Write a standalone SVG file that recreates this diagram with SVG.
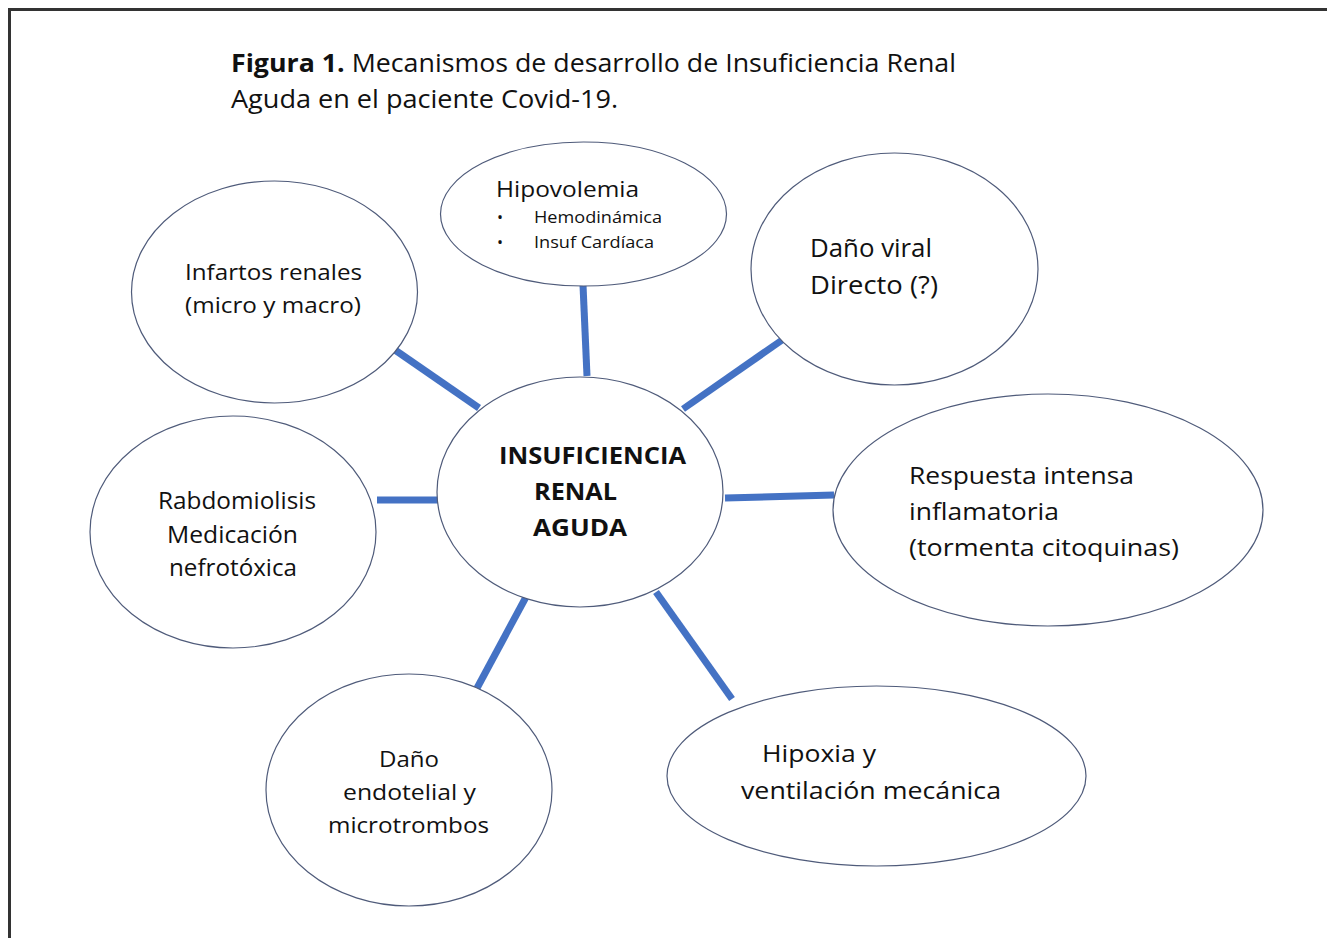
<svg xmlns="http://www.w3.org/2000/svg" width="1327" height="938" viewBox="0 0 1327 938">
<style>
.n{fill:#fff;stroke:#4f5b7a;stroke-width:1.2}
.c{stroke:#4472c4;stroke-width:7;stroke-linecap:butt;fill:none}
text{font-family:"Open Sans",Lato,"Liberation Sans",sans-serif;fill:#111;font-variant-ligatures:none}
</style>
<rect x="0" y="0" width="1327" height="938" fill="#fff"/>
<rect x="9.5" y="9.5" width="1330" height="940" fill="none" stroke="#333" stroke-width="3"/>
<g id="title">
<text x="231" y="72" font-size="25" textLength="725" lengthAdjust="spacingAndGlyphs"><tspan font-weight="bold">Figura 1.</tspan> Mecanismos de desarrollo de Insuficiencia Renal</text>
<text x="231" y="108" font-size="25" textLength="387" lengthAdjust="spacingAndGlyphs">Aguda en el paciente Covid-19.</text>
</g>
<g id="connectors">
<line class="c" x1="395" y1="350" x2="479" y2="408"/>
<line class="c" x1="583" y1="285" x2="587" y2="376"/>
<line class="c" x1="785" y1="338" x2="683" y2="409"/>
<line class="c" x1="377" y1="500" x2="438" y2="500"/>
<line class="c" x1="725" y1="498" x2="834" y2="495"/>
<line class="c" x1="526" y1="597" x2="476" y2="690"/>
<line class="c" x1="656" y1="592" x2="732" y2="699"/>
</g>
<g id="hipovolemia">
<ellipse class="n" cx="583.5" cy="214" rx="143" ry="72"/>
<text x="496" y="197" font-size="22" textLength="143" lengthAdjust="spacingAndGlyphs">Hipovolemia</text>
<text x="497" y="223" font-size="16">•</text>
<text x="534" y="223" font-size="16" textLength="128" lengthAdjust="spacingAndGlyphs">Hemodinámica</text>
<text x="497" y="248" font-size="16">•</text>
<text x="534" y="248" font-size="16" textLength="120" lengthAdjust="spacingAndGlyphs">Insuf Cardíaca</text>
</g>
<g id="infartos">
<ellipse class="n" cx="274.5" cy="292" rx="143" ry="111"/>
<text x="185" y="280" font-size="22" textLength="177" lengthAdjust="spacingAndGlyphs">Infartos renales</text>
<text x="185" y="313" font-size="22" textLength="176" lengthAdjust="spacingAndGlyphs">(micro y macro)</text>
</g>
<g id="danoviral">
<ellipse class="n" cx="894.5" cy="269" rx="143.5" ry="116"/>
<text x="810" y="257" font-size="25" textLength="122" lengthAdjust="spacingAndGlyphs">Daño viral</text>
<text x="810" y="294" font-size="25" textLength="128" lengthAdjust="spacingAndGlyphs">Directo (?)</text>
</g>
<g id="center">
<ellipse class="n" cx="580" cy="492" rx="143" ry="115"/>
<text x="499" y="464" font-size="24" font-weight="bold" textLength="187" lengthAdjust="spacingAndGlyphs">INSUFICIENCIA</text>
<text x="534" y="500" font-size="24" font-weight="bold" textLength="83" lengthAdjust="spacingAndGlyphs">RENAL</text>
<text x="533" y="536" font-size="24" font-weight="bold" textLength="94" lengthAdjust="spacingAndGlyphs">AGUDA</text>
</g>
<g id="rabdo">
<ellipse class="n" cx="233" cy="532" rx="143" ry="116"/>
<text x="158" y="509" font-size="23" textLength="158" lengthAdjust="spacingAndGlyphs">Rabdomiolisis</text>
<text x="167" y="543" font-size="23" textLength="131" lengthAdjust="spacingAndGlyphs">Medicación</text>
<text x="169" y="576" font-size="23" textLength="128" lengthAdjust="spacingAndGlyphs">nefrotóxica</text>
</g>
<g id="respuesta">
<ellipse class="n" cx="1048" cy="510" rx="215" ry="116"/>
<text x="909" y="484" font-size="24" textLength="225" lengthAdjust="spacingAndGlyphs">Respuesta intensa</text>
<text x="909" y="520" font-size="24" textLength="150" lengthAdjust="spacingAndGlyphs">inflamatoria</text>
<text x="909" y="556" font-size="24" textLength="270" lengthAdjust="spacingAndGlyphs">(tormenta citoquinas)</text>
</g>
<g id="endotelial">
<ellipse class="n" cx="409" cy="790" rx="143" ry="116"/>
<text x="379" y="767" font-size="22" textLength="60" lengthAdjust="spacingAndGlyphs">Daño</text>
<text x="343" y="800" font-size="22" textLength="133" lengthAdjust="spacingAndGlyphs">endotelial y</text>
<text x="328" y="833" font-size="22" textLength="161" lengthAdjust="spacingAndGlyphs">microtrombos</text>
</g>
<g id="hipoxia">
<ellipse class="n" cx="876.5" cy="776" rx="209.5" ry="90"/>
<text x="762" y="762" font-size="24" textLength="114" lengthAdjust="spacingAndGlyphs">Hipoxia  y</text>
<text x="741" y="799" font-size="24" textLength="260" lengthAdjust="spacingAndGlyphs">ventilación mecánica</text>
</g>
</svg>
